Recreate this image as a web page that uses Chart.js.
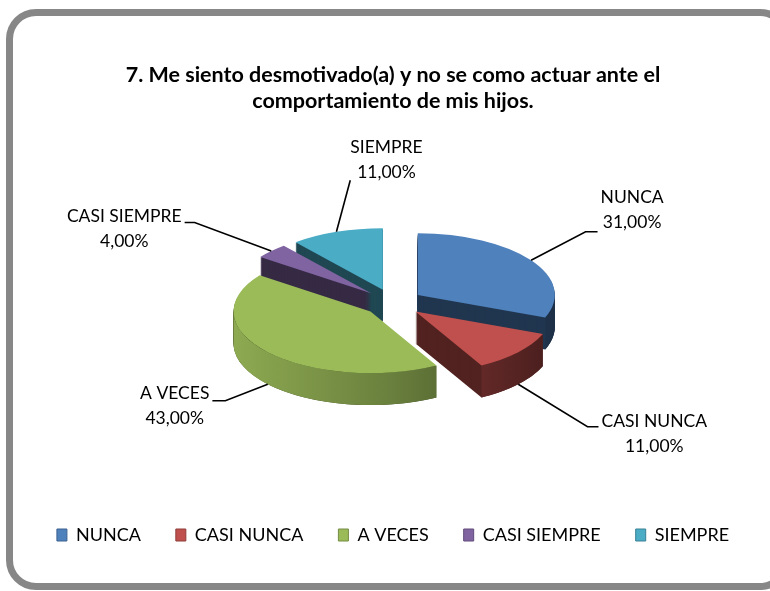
<!DOCTYPE html>
<html><head><meta charset="utf-8">
<script src="https://cdn.jsdelivr.net/npm/chart.js@4.4.1/dist/chart.umd.min.js"></script>
<style>
html,body{margin:0;padding:0;background:#fff;overflow:hidden;}
#wrap{position:relative;width:770px;height:591px;overflow:hidden;}
#frame{position:absolute;left:6px;top:9px;width:784px;height:581px;box-sizing:border-box;border:7px solid #878787;border-radius:30px;}
canvas{position:absolute;left:0;top:0;}
</style></head><body>
<div id="wrap"><div id="frame"></div><canvas id="c" width="770" height="591"></canvas></div>
<script>
// ---- data ----
const TITLE_LINES = ['7. Me siento desmotivado(a) y no se como actuar ante el', 'comportamiento de mis hijos.'];
const CATEGORIES = ['NUNCA', 'CASI NUNCA', 'A VECES', 'CASI SIEMPRE', 'SIEMPRE'];
const PERCENTAGES = [31, 11, 43, 4, 11];
const SLICE_COLORS = ['#4F81BD', '#C0504D', '#9BBB59', '#8064A2', '#4BACC6'];

// ---- styling / layout options ----
const PIE = { radius: 137, tilt: 0.45, depth: 32, explode: 30 };
const LABEL_LAYOUT = [
  { dx: 101, dy: -50.5, ly: 22, hlen: 12, gap: 3 },
  { dx: 136, dy: 49.5, ly: -7, hlen: 11, gap: 3 },
  { dx: -93, dy: 21.5, ly: -5, hlen: 13, gap: 3 },
  { dx: -147, dy: -22.5, ly: -6, hlen: 10, gap: 3 },
  { dx: 50, dy: -71.5, ly: 20, hlen: 0, gap: 0 }
];
const LABEL_FONT = '17.5px Lato';

function shade(hex, f) {
  const n = parseInt(hex.slice(1), 16);
  const r = Math.round(((n >> 16) & 255) * f), g = Math.round(((n >> 8) & 255) * f), b = Math.round((n & 255) * f);
  return 'rgb(' + Math.min(255, r) + ',' + Math.min(255, g) + ',' + Math.min(255, b) + ')';
}
function project(ctx, cy, t) {
  ctx.translate(0, cy + t);
  ctx.scale(1, PIE.tilt);
  ctx.translate(0, -cy);
}
function fmtPct(v) { return v.toFixed(2).replace('.', ',') + '%'; }

const pie3d = {
  id: 'pie3d',
  beforeDatasetsDraw(chart) {
    const ctx = chart.ctx;
    const arcs = chart.getDatasetMeta(0).data;
    const cy = arcs[0].y;
    const E = PIE.explode;
    const drawEl = (arc, t, color) => {
      const m = (arc.startAngle + arc.endAngle) / 2;
      ctx.save();
      project(ctx, cy, t);
      ctx.translate(Math.cos(m) * E, Math.sin(m) * E);
      if (color) {
        const p = Object.create(arc);
        p.options = Object.assign({}, arc.options, { backgroundColor: color, borderWidth: 0 });
        p.draw(ctx);
      } else {
        arc.draw(ctx);
      }
      ctx.restore();
    };
    for (let t = PIE.depth; t >= 1; t--) {
      arcs.forEach((a, i) => drawEl(a, t, shade(SLICE_COLORS[i], 0.42)));
    }
    // curved outer walls (front half) with gradient
    arcs.forEach((arc, i) => {
      const a1 = Math.max(arc.startAngle, 0), a2 = Math.min(arc.endAngle, Math.PI);
      if (a2 <= a1) return;
      const m = (arc.startAngle + arc.endAngle) / 2;
      const gx = arc.x + Math.cos(m) * E, gy = arc.y + Math.sin(m) * E, R = arc.outerRadius;
      const pt = (a, t) => [gx + R * Math.cos(a), cy + t + PIE.tilt * (gy + R * Math.sin(a) - cy)];
      const N = 48;
      ctx.beginPath();
      for (let k = 0; k <= N; k++) { const p = pt(a1 + (a2 - a1) * k / N, 0); k ? ctx.lineTo(p[0], p[1]) : ctx.moveTo(p[0], p[1]); }
      for (let k = N; k >= 0; k--) { const p = pt(a1 + (a2 - a1) * k / N, PIE.depth); ctx.lineTo(p[0], p[1]); }
      ctx.closePath();
      const grad = ctx.createLinearGradient(arc.x - R - E, 0, arc.x + R + E, 0);
      const c = SLICE_COLORS[i];
      grad.addColorStop(0, shade(c, 0.92));
      grad.addColorStop(0.5, shade(c, 0.68));
      grad.addColorStop(1, shade(c, 0.36));
      ctx.fillStyle = grad;
      ctx.fill();
    });
    arcs.forEach(a => drawEl(a, 0, null));
    return false;
  },
  afterDraw(chart) {
    const ctx = chart.ctx;
    const arcs = chart.getDatasetMeta(0).data;
    const cy = arcs[0].y;
    const E = PIE.explode;
    ctx.save();
    ctx.font = LABEL_FONT;
    ctx.textAlign = 'center';
    ctx.textBaseline = 'middle';
    arcs.forEach((arc, i) => {
      const m = (arc.startAngle + arc.endAngle) / 2;
      const R = arc.outerRadius;
      const fx = arc.x + Math.cos(m) * (E + R), fy = arc.y + Math.sin(m) * (E + R);
      const ax = fx;
      const ay = cy + PIE.tilt * (fy - cy) + (Math.sin(m) > 0.3 ? PIE.depth : 0);
      const L = LABEL_LAYOUT[i];
      const tx = ax + L.dx, ty = ay + L.dy;
      const lines = [CATEGORIES[i], fmtPct(PERCENTAGES[i])];
      const w = Math.max(...lines.map(s => ctx.measureText(s).width));
      const dir = L.dx > 0 ? -1 : 1;
      const edgeX = tx + dir * (w / 2 + L.gap);
      const yA = ty + L.ly;
      ctx.strokeStyle = '#000';
      ctx.lineWidth = 1.6;
      ctx.beginPath();
      ctx.moveTo(ax, ay);
      ctx.lineTo(edgeX + dir * L.hlen, yA);
      ctx.lineTo(edgeX, yA);
      ctx.stroke();
      ctx.fillStyle = '#000';
      ctx.fillText(lines[0], tx, ty - 12.5);
      ctx.fillText(lines[1], tx, ty + 12.5);
    });
    ctx.restore();
  }
};

new Chart(document.getElementById('c'), {
  type: 'pie',
  data: {
    labels: CATEGORIES,
    datasets: [{ data: PERCENTAGES, backgroundColor: SLICE_COLORS, borderWidth: 0, radius: PIE.radius }]
  },
  options: {
    responsive: false,
    animation: false,
    devicePixelRatio: 1,
    events: [],
    layout: { padding: { left: 16, right: 0, top: 0, bottom: 37 } },
    plugins: {
      title: {
        display: true, text: TITLE_LINES, color: '#000',
        font: { family: 'Lato', size: 21.5, weight: 'bold', lineHeight: 26 / 21.5 },
        padding: { top: 62, bottom: 0 }
      },
      legend: {
        position: 'bottom',
        labels: {
          color: '#000', font: { family: 'Lato', size: 18 }, boxWidth: 10, boxHeight: 12, padding: 35,
          generateLabels: (chart) => Chart.DoughnutController.overrides.plugins.legend.labels.generateLabels(chart)
            .map((l, i) => Object.assign(l, { strokeStyle: shade(SLICE_COLORS[i], 0.75), lineWidth: 1 }))
        }
      },
      tooltip: { enabled: false }
    }
  },
  plugins: [pie3d]
});
</script>
</body></html>
